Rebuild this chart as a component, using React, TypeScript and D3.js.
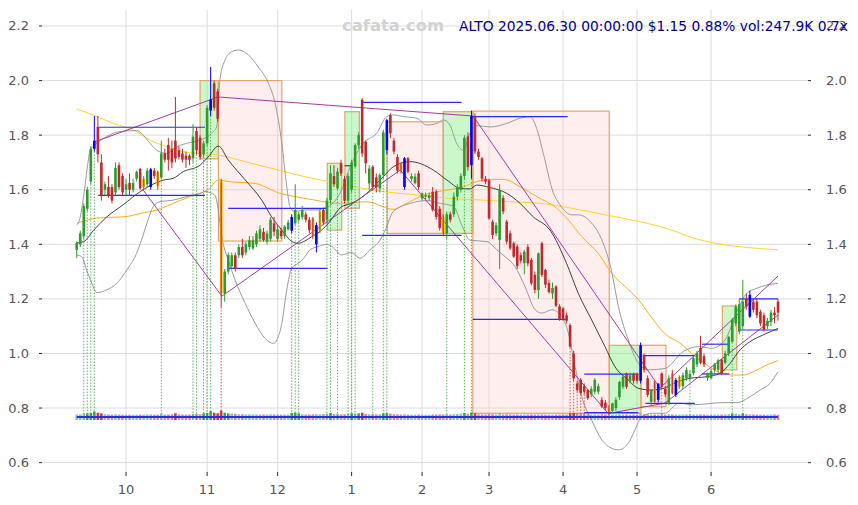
import { useEffect, useRef } from 'react';
import * as d3 from 'd3';

type Pt = [number, number];

// daily bars Sep 11 2024 .. Jun 30 2025 : [open, high, low, close]
const candles: number[][] = [
  [1.38,1.41,1.35,1.405],[1.40,1.45,1.39,1.44],[1.43,1.55,1.42,1.54],[1.53,1.61,1.52,1.60],[1.63,1.76,1.62,1.75],
  [1.75,1.87,1.74,1.78],[1.83,1.87,1.70,1.73],[1.70,1.73,1.56,1.58],[1.60,1.63,1.58,1.62],[1.61,1.65,1.57,1.58],
  [1.61,1.62,1.55,1.56],[1.59,1.70,1.58,1.68],[1.69,1.70,1.60,1.61],[1.65,1.66,1.58,1.59],[1.60,1.64,1.58,1.62],
  [1.625,1.66,1.58,1.60],[1.60,1.64,1.59,1.625],[1.64,1.67,1.63,1.665],[1.676,1.68,1.60,1.605],[1.61,1.65,1.60,1.64],
  [1.62,1.68,1.61,1.67],[1.61,1.68,1.60,1.675],[1.67,1.68,1.64,1.65],[1.665,1.67,1.60,1.615],[1.645,1.78,1.64,1.733],
  [1.733,1.75,1.70,1.71],[1.764,1.79,1.67,1.71],[1.75,1.78,1.68,1.70],[1.78,1.94,1.70,1.715],[1.745,1.76,1.71,1.72],
  [1.733,1.75,1.70,1.71],[1.725,1.74,1.68,1.71],[1.725,1.73,1.69,1.71],[1.715,1.84,1.70,1.795],[1.815,1.83,1.73,1.745],
  [1.79,1.80,1.71,1.72],[1.73,1.78,1.72,1.77],[1.77,1.91,1.76,1.90],[1.89,2.05,1.87,1.93],[1.99,2.00,1.89,1.90],
  [1.96,1.97,1.85,1.86],[1.63,1.64,1.17,1.22],[1.22,1.31,1.19,1.30],[1.30,1.37,1.29,1.36],[1.32,1.37,1.31,1.36],
  [1.36,1.37,1.30,1.31],[1.36,1.40,1.35,1.39],[1.39,1.42,1.35,1.36],[1.37,1.41,1.36,1.40],[1.39,1.43,1.38,1.415],
  [1.385,1.43,1.38,1.415],[1.40,1.45,1.39,1.44],[1.42,1.47,1.41,1.455],[1.446,1.46,1.41,1.416],[1.41,1.45,1.40,1.44],
  [1.42,1.50,1.41,1.49],[1.477,1.50,1.43,1.446],[1.42,1.47,1.41,1.455],[1.45,1.46,1.42,1.43],[1.43,1.47,1.42,1.465],
  [1.455,1.49,1.45,1.48],[1.45,1.51,1.44,1.50],[1.477,1.62,1.47,1.526],[1.49,1.52,1.48,1.51],[1.50,1.54,1.49,1.526],
  [1.51,1.52,1.48,1.49],[1.49,1.50,1.44,1.452],[1.495,1.50,1.42,1.43],[1.40,1.48,1.37,1.47],[1.45,1.53,1.44,1.52],
  [1.526,1.53,1.47,1.48],[1.49,1.57,1.48,1.56],[1.562,1.69,1.55,1.66],[1.65,1.69,1.61,1.62],[1.605,1.68,1.60,1.666],
  [1.697,1.71,1.65,1.66],[1.64,1.65,1.55,1.56],[1.56,1.66,1.55,1.65],[1.60,1.71,1.59,1.70],[1.685,1.77,1.68,1.764],
  [1.764,1.81,1.75,1.80],[1.93,1.935,1.72,1.733],[1.776,1.78,1.66,1.697],[1.623,1.69,1.60,1.678],[1.684,1.69,1.60,1.61],
  [1.645,1.66,1.59,1.61],[1.605,1.66,1.59,1.654],[1.654,1.82,1.64,1.81],[1.745,1.86,1.73,1.855],[1.874,1.88,1.79,1.807],
  [1.78,1.79,1.73,1.74],[1.72,1.73,1.66,1.67],[1.697,1.70,1.66,1.672],[1.61,1.72,1.60,1.715],[1.715,1.72,1.66,1.666],
  [1.64,1.66,1.63,1.65],[1.624,1.66,1.62,1.648],[1.66,1.67,1.60,1.61],[1.568,1.59,1.56,1.587],[1.575,1.59,1.56,1.58],
  [1.57,1.59,1.56,1.58],[1.593,1.61,1.52,1.526],[1.593,1.60,1.49,1.50],[1.53,1.54,1.45,1.46],[1.50,1.51,1.43,1.44],
  [1.44,1.52,1.42,1.51],[1.51,1.52,1.48,1.49],[1.51,1.59,1.50,1.575],[1.575,1.62,1.56,1.61],[1.60,1.66,1.59,1.65],
  [1.65,1.80,1.64,1.79],[1.795,1.81,1.67,1.683],[1.69,1.89,1.64,1.87],[1.87,1.88,1.73,1.74],[1.74,1.75,1.71,1.72],
  [1.715,1.72,1.63,1.64],[1.64,1.65,1.62,1.63],[1.635,1.64,1.49,1.495],[1.483,1.49,1.42,1.434],[1.44,1.48,1.43,1.47],
  [1.416,1.62,1.31,1.60],[1.57,1.58,1.51,1.52],[1.483,1.49,1.40,1.41],[1.44,1.45,1.38,1.385],[1.404,1.41,1.35,1.355],
  [1.392,1.40,1.31,1.32],[1.36,1.37,1.33,1.34],[1.331,1.38,1.29,1.373],[1.39,1.40,1.32,1.33],[1.343,1.35,1.25,1.257],
  [1.288,1.30,1.22,1.233],[1.233,1.37,1.20,1.367],[1.404,1.41,1.28,1.288],[1.306,1.31,1.24,1.252],[1.258,1.27,1.22,1.225],
  [1.22,1.26,1.20,1.24],[1.245,1.25,1.17,1.175],[1.173,1.18,1.12,1.125],[1.165,1.17,1.12,1.125],[1.14,1.15,1.11,1.12],
  [1.104,1.11,1.02,1.025],[1.0,1.01,0.90,0.909],[0.89,0.90,0.86,0.866],[0.903,0.91,0.85,0.855],[0.88,0.89,0.85,0.86],
  [0.866,0.87,0.83,0.836],[0.85,0.88,0.84,0.87],[0.86,0.91,0.85,0.903],[0.86,0.89,0.85,0.88],[0.83,0.84,0.80,0.805],
  [0.82,0.83,0.79,0.80],[0.80,0.81,0.775,0.785],[0.79,0.82,0.78,0.817],[0.80,0.84,0.79,0.83],[0.84,0.90,0.83,0.896],
  [0.878,0.92,0.87,0.915],[0.927,0.93,0.87,0.878],[0.90,0.93,0.89,0.92],[0.925,0.93,0.89,0.90],[0.925,0.93,0.89,0.90],
  [0.90,1.04,0.89,1.03],[0.995,1.00,0.93,0.94],[0.909,0.92,0.84,0.848],[0.823,0.87,0.81,0.866],[0.897,0.90,0.82,0.823],
  [0.83,0.89,0.82,0.89],[0.927,0.93,0.87,0.878],[0.87,0.88,0.84,0.85],[0.817,0.92,0.81,0.909],[0.927,0.94,0.85,0.854],
  [0.848,0.91,0.84,0.903],[0.878,0.92,0.87,0.915],[0.88,0.93,0.87,0.92],[0.909,0.95,0.90,0.94],[0.91,0.94,0.90,0.925],
  [0.927,0.99,0.92,0.982],[0.96,1.01,0.95,1.0],[1.02,1.065,0.96,0.966],[0.99,1.0,0.95,0.96],[0.91,0.93,0.90,0.927],
  [0.91,0.945,0.905,0.935],[0.94,0.965,0.93,0.96],[0.94,0.98,0.93,0.975],[0.976,0.98,0.92,0.927],[0.966,1.01,0.96,1.0],
  [1.0,1.065,0.99,1.06],[1.043,1.13,1.04,1.123],[1.11,1.18,1.10,1.172],[1.08,1.20,1.07,1.18],[1.10,1.27,1.09,1.19],
  [1.20,1.22,1.16,1.172],[1.135,1.23,1.13,1.215],[1.19,1.20,1.15,1.16],[1.19,1.20,1.13,1.14],[1.153,1.16,1.10,1.11],
  [1.14,1.15,1.08,1.086],[1.10,1.13,1.09,1.12],[1.116,1.16,1.10,1.15],[1.15,1.17,1.11,1.14],[1.19,1.20,1.12,1.15],
];

// volume in thousands of shares
const volumes = [
  300,350,600,700,800,1300,900,700,400,350,300,350,300,250,
  200,250,200,250,300,250,300,350,250,300,600,300,350,400,
  700,400,350,300,300,600,500,400,700,800,1400,900,700,1600,
  900,700,600,500,400,400,350,350,300,300,350,300,300,350,
  300,300,250,300,300,800,900,700,400,300,300,350,400,350,
  400,600,800,500,600,400,400,600,700,600,700,900,500,400,
  400,350,400,700,800,600,400,350,300,400,300,250,250,300,
  250,200,200,300,300,350,350,400,300,400,450,600,800,600,
  1000,700,400,350,300,500,400,300,600,350,400,350,300,350,
  250,300,300,350,300,400,350,300,250,250,300,300,350,300,
  700,800,600,600,600,400,300,350,300,400,350,400,300,300,
  400,350,300,250,300,300,600,400,350,300,350,300,400,300,
  350,300,300,250,300,350,300,300,300,350,300,250,250,250,
  300,300,350,400,700,500,400,700,400,350,300,300,250,300,250,300,350,248,
];

const blueBars = [5, 21, 38, 61, 68, 88, 93, 112, 160, 165, 170, 191];
const orangeBars = [19, 23, 41, 67, 69, 92, 104, 151, 164, 169, 171];
const buySignals = [2, 3, 4, 5, 24, 33, 34, 36, 37, 38, 61, 62, 63, 71, 72, 74, 77, 78, 79, 84, 87, 88, 105, 110, 112, 166, 174, 186, 189];
const sellSignals = [41, 140, 141, 142, 143, 144];

const monthLabels = ['10', '11', '12', '1', '2', '3', '4', '5', '6'];
const monthStart = [14, 37, 57, 78, 98, 117, 138, 159, 180];
const priceTicks = [0.6, 0.8, 1.0, 1.2, 1.4, 1.6, 1.8, 2.0, 2.2];

// indicator lines: [bar, price]
const midBand: Pt[] = [
  [0,1.405],[2,1.41],[4.7,1.45],[8.5,1.50],[13.2,1.545],[18,1.593],[24.5,1.635],[27.4,1.642],[30.2,1.666],[35,1.69],
  [37.3,1.72],[40.2,1.76],[43,1.709],[47.8,1.636],[52.5,1.562],[55.3,1.501],[58.2,1.452],[61.1,1.41],[62.8,1.404],
  [66.7,1.428],[69.5,1.452],[71.4,1.477],[75.2,1.538],[77.6,1.548],[81.2,1.575],[87,1.648],[89.8,1.684],[94.6,1.703],
  [101.2,1.672],[105,1.636],[108.8,1.605],[111.6,1.603],[113.5,1.617],[117.3,1.608],[122,1.587],[125.8,1.55],
  [129.6,1.50],[134.3,1.452],[139,1.33],[142.3,1.221],[146.1,1.123],[149.9,1.025],[152.7,0.952],[156.5,0.903],
  [159.4,0.872],[163.2,0.866],[166.9,0.874],[169.3,0.89],[174,0.909],[178.8,0.915],[182.5,0.927],[185.4,0.964],
  [188.2,1.013],[191,1.043],[194.8,1.068],[199,1.092],
];
const upperBand: Pt[] = [
  [0,1.47],[1,1.50],[2,1.58],[3,1.68],[3.8,1.745],[5.2,1.764],[8.5,1.795],[12.3,1.813],[17,1.817],[18.9,1.80],
  [20.8,1.77],[22.7,1.745],[25.5,1.733],[28.4,1.758],[31.2,1.77],[35,1.782],[38.3,1.807],[39.7,1.83],[40.7,2.01],
  [42.1,2.075],[44,2.106],[45.9,2.112],[48.7,2.094],[51.5,2.05],[54.4,1.99],[56.3,1.917],[58.2,1.77],[59.6,1.611],
  [60.5,1.538],[61.9,1.52],[64.8,1.526],[68.6,1.526],[70,1.532],[71.4,1.538],[75.2,1.60],[77.6,1.684],[81.3,1.77],
  [85.1,1.807],[88,1.868],[89.8,1.874],[92.7,1.868],[96.5,1.862],[99.3,1.837],[102.2,1.843],[104,1.856],[105.9,1.837],
  [107.8,1.77],[109.7,1.745],[111.6,1.807],[113.5,1.835],[117.3,1.83],[122,1.843],[125.8,1.862],[128.6,1.868],
  [130.5,1.825],[132.4,1.733],[135.2,1.59],[137.1,1.545],[140.5,1.508],[142.3,1.508],[146.1,1.478],[149,1.416],
  [151.8,1.30],[153.7,1.172],[156.5,1.05],[159.4,0.964],[162.2,0.94],[166.9,0.945],[172.1,1.007],[176.4,1.025],
  [180.2,1.019],[184,1.05],[187.3,1.153],[190.1,1.22],[193,1.239],[195.8,1.251],[199,1.257],
];
const lowerBand: Pt[] = [
  [0,1.361],[1.4,1.355],[2.8,1.306],[4.3,1.257],[5.7,1.223],[8.5,1.233],[11.4,1.257],[14.2,1.306],[17,1.367],
  [18.4,1.416],[19.9,1.477],[21.7,1.538],[23.6,1.556],[27.4,1.562],[31.2,1.575],[35,1.587],[36.4,1.593],[39.2,1.58],
  [41.6,1.40],[43,1.343],[44.9,1.27],[47.8,1.184],[50.6,1.111],[53.4,1.056],[55.8,1.037],[56.8,1.05],[58.2,1.11],
  [59.6,1.233],[61,1.312],[62.9,1.331],[64.8,1.355],[66.2,1.38],[68.6,1.392],[70.9,1.40],[72.4,1.392],[75.2,1.361],
  [78,1.37],[80.4,1.349],[83.2,1.38],[86.1,1.416],[87.5,1.45],[89.8,1.52],[94.6,1.55],[99.4,1.56],[103.1,1.55],
  [106.8,1.54],[109.6,1.46],[111.6,1.415],[116.4,1.41],[119.2,1.38],[121.5,1.355],[124.4,1.318],[127.2,1.245],
  [130.1,1.16],[132,1.148],[134.8,1.16],[137.6,1.136],[139.5,1.075],[141.4,0.952],[143.3,0.842],[146.1,0.756],
  [149,0.683],[150.9,0.659],[153.7,0.647],[156.5,0.671],[158.4,0.72],[160.3,0.768],[163.2,0.781],[166.9,0.781],
  [170.9,0.818],[174.7,0.812],[183.5,0.82],[187.3,0.82],[191.1,0.842],[193.9,0.866],[196.7,0.89],[199,0.933],
];
const ma50: Pt[] = [
  [0,1.477],[5.7,1.496],[14.2,1.502],[18,1.513],[22.7,1.526],[27.4,1.55],[32.2,1.575],[35,1.587],[37.3,1.60],
  [40.2,1.636],[43,1.63],[50.6,1.623],[53.4,1.611],[56.3,1.593],[61.9,1.575],[67.6,1.562],[71.4,1.553],[75.2,1.55],
  [82.3,1.556],[87,1.538],[89.8,1.528],[93.6,1.55],[97.4,1.575],[102.2,1.593],[105.9,1.60],[109.7,1.611],
  [113.5,1.63],[117.3,1.638],[121.1,1.638],[125.8,1.611],[130.5,1.575],[136.2,1.532],[139.5,1.489],[143.3,1.428],
  [148,1.367],[151.8,1.294],[155.6,1.245],[159.4,1.197],[163.2,1.13],[166.9,1.072],[171.2,1.038],[175,0.995],
  [178.8,0.958],[182.5,0.93],[186.3,0.921],[189.2,0.921],[192,0.933],[195.8,0.958],[199,0.974],
];
const ma200: Pt[] = [
  [0,1.895],[4.7,1.874],[10.4,1.843],[16.1,1.819],[20.8,1.782],[25.5,1.758],[30.2,1.739],[35,1.733],[40.2,1.727],
  [47.8,1.703],[57.2,1.672],[66.7,1.642],[71.4,1.63],[79,1.611],[87,1.593],[96.5,1.581],[105.9,1.568],[115.4,1.562],
  [123,1.556],[131,1.551],[140.5,1.532],[149.9,1.508],[159.4,1.484],[166.9,1.46],[176.9,1.416],[199,1.38],
];

// trend lines joining swing points
const upperSwing: Pt[] = [[5.2,1.776],[40.1,1.94],[112.5,1.87],[165.5,0.873],[199,1.284]];
const lowerSwing: Pt[] = [[18.8,1.60],[41.2,1.21],[91.8,1.672],[150.8,0.78],[166.9,0.818],[199,1.141]];

// horizontal range levels: [from bar, to bar, price]
const levels: number[][] = [
  [6.1,36.4,1.829],[6.1,36.4,1.579],[43,71.2,1.532],[43,71.2,1.312],[76,78,1.688],
  [81,109.2,1.92],[81,109.2,1.433],[112.4,139.3,1.868],[112.4,139.3,1.125],
  [144,159.4,0.924],[144,159.4,0.783],[160.6,175.4,0.992],[161.4,175.4,0.817],
  [177.4,185.2,1.034],[177.4,185.2,0.925],[188,199,1.2],[188,199,1.086],
];

// zones: [from bar, to bar, low, high]
const upZones: number[][] = [
  [35,40.2,1.713,2.0],[71.1,75.2,1.452,1.697],[76.1,80.2,1.532,1.886],[104,112.4,1.44,1.886],
  [151.1,160.1,0.781,1.03],[183.2,187.3,0.94,1.174],
];
const downZones: number[][] = [
  [40.2,58.2,1.412,2.0],[88.1,104,1.44,1.849],[112.4,151.1,0.781,1.888],[160.1,167.2,0.805,1.03],
];

const UP = '#2e9b2e';
const DOWN = '#bf2a2a';

export default function App() {
  const svgRef = useRef<SVGSVGElement>(null);

  useEffect(() => {
    if (!svgRef.current) return;
    const svg = d3.select(svgRef.current);
    svg.selectAll('*').remove();

    const x = d3.scaleLinear().domain([-9.85, 207.5]).range([42, 808]);
    const y = d3.scaleLinear().domain([0.5547, 2.2586]).range([475, 10]);
    const font = '"DejaVu Sans", Verdana, sans-serif';

    svg.append('rect').attr('width', 858).attr('height', 505).attr('fill', '#fff');

    // grid
    const grid = svg.append('g').attr('stroke', '#dcdcdc').attr('stroke-width', 1);
    priceTicks.forEach(p => {
      grid.append('line').attr('x1', 40).attr('x2', 810).attr('y1', y(p)).attr('y2', y(p));
    });
    monthStart.forEach(i => {
      grid.append('line').attr('x1', x(i)).attr('x2', x(i)).attr('y1', 10).attr('y2', 475);
    });

    // ticks + labels
    const axes = svg.append('g').attr('font-family', font).attr('font-size', 13).attr('fill', '#555');
    priceTicks.forEach(p => {
      axes.append('line').attr('x1', 39).attr('x2', 42).attr('y1', y(p)).attr('y2', y(p)).attr('stroke', '#333');
      axes.append('line').attr('x1', 808).attr('x2', 811).attr('y1', y(p)).attr('y2', y(p)).attr('stroke', '#333');
      axes.append('text').attr('x', 29).attr('y', y(p) + 4.5).attr('text-anchor', 'end').text(p.toFixed(1));
      axes.append('text').attr('x', 826).attr('y', y(p) + 4.5).text(p.toFixed(1));
    });
    monthStart.forEach((i, k) => {
      axes.append('line').attr('x1', x(i)).attr('x2', x(i)).attr('y1', 472).attr('y2', 476).attr('stroke', '#333');
      axes.append('text').attr('x', x(i)).attr('y', 494).attr('text-anchor', 'middle').text(monthLabels[k]);
    });

    // zones
    const zoneG = svg.append('g');
    const drawZones = (zones: number[][], fill: string) => {
      zoneG.selectAll(null)
        .data(zones)
        .join('rect')
        .attr('x', d => x(d[0]))
        .attr('width', d => x(d[1]) - x(d[0]))
        .attr('y', d => y(d[3]))
        .attr('height', d => y(d[2]) - y(d[3]))
        .attr('fill', fill)
        .attr('stroke', '#e0a46c')
        .attr('stroke-width', 1.2);
    };
    drawZones(downZones, 'rgba(255,205,205,0.35)');
    drawZones(upZones, 'rgba(140,240,140,0.45)');

    // indicator lines
    const curve = d3.line<Pt>().x(d => x(d[0])).y(d => y(d[1])).curve(d3.curveMonotoneX);
    const addLine = (pts: Pt[], color: string, w: number) =>
      svg.append('path').attr('d', curve(pts)).attr('fill', 'none').attr('stroke', color).attr('stroke-width', w);
    addLine(ma200, '#ffd42a', 1);
    addLine(ma50, '#ffaa22', 1);
    addLine(upperBand, '#9a9a9a', 1);
    addLine(lowerBand, '#9a9a9a', 1);
    addLine(midBand, '#111', 0.8);

    // trend lines
    const straight = d3.line<Pt>().x(d => x(d[0])).y(d => y(d[1]));
    [upperSwing, lowerSwing].forEach(s => {
      svg.append('path').attr('d', straight(s)).attr('fill', 'none').attr('stroke', '#a23aa8').attr('stroke-width', 1);
    });

    // range levels
    svg.append('g').selectAll('line')
      .data(levels)
      .join('line')
      .attr('x1', d => x(d[0])).attr('x2', d => x(d[1]))
      .attr('y1', d => y(d[2])).attr('y2', d => y(d[2]))
      .attr('stroke', '#2a2aff').attr('stroke-width', 1.2);

    // signal markers
    const volBase = 420;
    const sig = svg.append('g').attr('stroke-width', 1).attr('stroke-dasharray', '1.5,1.5');
    buySignals.forEach(i => {
      sig.append('line').attr('x1', x(i)).attr('x2', x(i)).attr('y1', y(candles[i][2])).attr('y2', volBase)
        .attr('stroke', 'rgba(46,155,46,0.75)');
    });
    sellSignals.forEach(i => {
      sig.append('line').attr('x1', x(i)).attr('x2', x(i)).attr('y1', y(candles[i][2])).attr('y2', volBase)
        .attr('stroke', 'rgba(191,42,42,0.75)');
    });

    // volume strip
    const vh = d3.scaleLinear().domain([0, 1600]).range([4.5, 9.5]);
    const bw = 2.6;
    svg.append('g').selectAll('rect')
      .data(volumes)
      .join('rect')
      .attr('x', (_, i) => x(i) - bw / 2)
      .attr('width', bw)
      .attr('y', v => volBase - vh(v))
      .attr('height', v => vh(v))
      .attr('fill', (_, i) => (candles[i][3] >= candles[i][0] ? UP : DOWN))
      .attr('opacity', v => (v > 650 ? 0.9 : 0.55));
    svg.append('line').attr('x1', x(0)).attr('x2', x(candles.length - 1))
      .attr('y1', 417).attr('y2', 417).attr('stroke', '#2a2aff').attr('stroke-width', 1.8);

    // candles
    const cg = svg.append('g');
    candles.forEach((c, i) => {
      const [o, h, l, cl] = c;
      const base = cl >= o ? UP : DOWN;
      const isBlue = blueBars.includes(i);
      const isOrange = orangeBars.includes(i);
      const body = isBlue ? '#0000ff' : isOrange ? '#ffa500' : base;
      const top = y(Math.max(o, cl));
      const bh = Math.max(1, y(Math.min(o, cl)) - top);
      cg.append('rect').attr('x', x(i) - bw / 2).attr('y', top).attr('width', bw).attr('height', bh).attr('fill', body);
      cg.append('line').attr('x1', x(i)).attr('x2', x(i)).attr('y1', y(h)).attr('y2', y(l))
        .attr('stroke', isBlue ? '#0000ff' : base).attr('stroke-width', 1);
    });

    // header
    svg.append('text').attr('x', 342).attr('y', 31).attr('font-family', font).attr('font-weight', 'bold')
      .attr('font-size', 16.4).attr('fill', '#d2d2d2').text('cafata.com');
    svg.append('text').attr('x', 459).attr('y', 31).attr('font-family', font).attr('font-size', 13.8)
      .attr('fill', '#000090').text('ALTO 2025.06.30 00:00:00 $1.15 0.88% vol:247.9K 0.7x');
  }, []);

  return (
    <svg
      ref={svgRef}
      width={858}
      height={505}
      style={{ position: 'absolute', left: 0, top: 0, display: 'block' }}
    />
  );
}
